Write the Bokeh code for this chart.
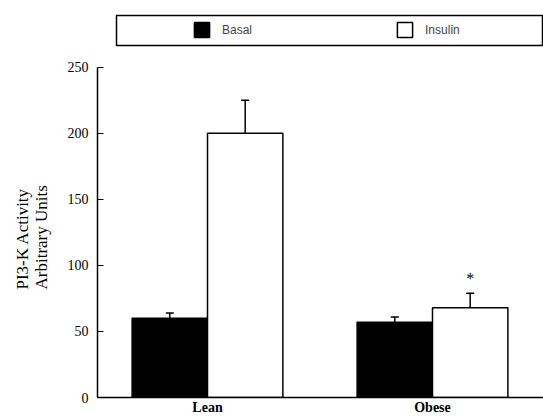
from bokeh.plotting import figure
from bokeh.models import (ColumnDataSource, Whisker, TeeHead, FixedTicker, Range1d,
                          Legend, LegendItem, BoxAnnotation, Title)
from bokeh.core.properties import value
from bokeh.embed import file_html
from bokeh.resources import INLINE

# ---- data ----
groups = ["Lean", "Obese"]
basal = [60, 57]
basal_err = [4, 4]
insulin = [200, 68]
insulin_err = [25, 11]
significant = [False, True]
y_ticks = [0, 50, 100, 150, 200, 250]
y_title = "PI3-K Activity\nArbitrary Units"

# ---- layout constants ----
W, H = 543, 417
LEFT, BOTTOM = 97, 19
frame_w = W - LEFT
frame_h = H - BOTTOM
px_per_unit = 1.324
group_px = 225.0
bar_w = 0.335
x_start = 1 - 110.0 / group_px
x_end = x_start + frame_w / group_px
y_end = frame_h / px_per_unit

pos = list(range(1, len(groups) + 1))
xb = [p - bar_w / 2 for p in pos]
xi = [p + bar_w / 2 for p in pos]

src_b = ColumnDataSource(dict(x=xb, top=basal, lo=basal,
                              hi=[v + e for v, e in zip(basal, basal_err)]))
src_i = ColumnDataSource(dict(x=xi, top=insulin, lo=insulin,
                              hi=[v + e for v, e in zip(insulin, insulin_err)]))

p = figure(width=W, height=H, output_backend="svg", toolbar_location=None,
           x_range=Range1d(x_start, x_end), y_range=Range1d(0, y_end),
           min_border_left=LEFT, min_border_right=0, min_border_top=0,
           min_border_bottom=BOTTOM)
p.outline_line_color = None
p.grid.visible = False

# error bars
for src in (src_b, src_i):
    w = Whisker(source=src, base="x", upper="hi", lower="lo",
                line_color="black", line_width=1.5,
                upper_head=TeeHead(size=8, line_color="black", line_width=1.5),
                lower_head=None)
    p.add_layout(w)

rb = p.vbar(x="x", top="top", bottom=0, width=bar_w, source=src_b,
            fill_color="black", line_color="black", line_width=1.5)
ri = p.vbar(x="x", top="top", bottom=0, width=bar_w, source=src_i,
            fill_color="white", line_color="black", line_width=1.5)

# significance marker
sx = [x for x, s in zip(xi, significant) if s]
sy = [v + e + 5 for v, e, s in zip(insulin, insulin_err, significant) if s]
p.text(x=sx, y=sy, text=["*"] * len(sx), text_align="center",
       text_baseline="bottom", text_font=value("Liberation Serif"),
       text_font_size="16px", text_color="black")

# axes
p.yaxis.ticker = FixedTicker(ticks=y_ticks)
p.yaxis.bounds = (0, 250)
p.yaxis.major_tick_in = 6
p.yaxis.major_tick_out = 0
p.yaxis.minor_tick_line_color = None
p.yaxis.major_label_standoff = 9
p.yaxis.major_label_text_font = "Liberation Serif"
p.yaxis.major_label_text_font_size = "14px"
p.yaxis.major_label_text_color = "black"
p.yaxis.axis_line_width = 1.5
p.yaxis.major_tick_line_width = 1.2

# y-axis title (two lines), positioned along the 0..250 span
p.add_layout(Title(text=y_title, align="left", offset=108, vertical_align="top",
                   standoff=24, text_font="Liberation Serif", text_font_size="17px",
                   text_font_style="normal", text_color="black",
                   text_line_height=1.0), "left")

p.xaxis.ticker = FixedTicker(ticks=pos)
p.xaxis.major_label_overrides = {i: g for i, g in zip(pos, groups)}
p.xaxis.major_tick_in = 0
p.xaxis.major_tick_out = 0
p.xaxis.minor_tick_line_color = None
p.xaxis.major_label_standoff = 2
p.xaxis.major_label_text_font = "Liberation Serif"
p.xaxis.major_label_text_font_style = "bold"
p.xaxis.major_label_text_font_size = "14px"
p.xaxis.major_label_text_color = "black"
p.xaxis.axis_line_width = 1.5

# legend frame
box = BoxAnnotation(left=x_start + 19 / group_px, right=x_end - 1 / group_px,
                    top=(frame_h - 15) / px_per_unit, bottom=(frame_h - 45) / px_per_unit,
                    fill_alpha=0, line_color="black", line_width=1.5, line_alpha=1)
p.add_layout(box)

legend = Legend(items=[LegendItem(label="Basal", renderers=[rb]),
                       LegendItem(label="Insulin", renderers=[ri])],
                orientation="horizontal", location=(90, frame_h - 45),
                glyph_width=19, glyph_height=19, label_standoff=11, spacing=143,
                padding=5, margin=0, border_line_alpha=0, background_fill_alpha=0,
                label_text_font="Liberation Sans", label_text_font_size="12px")
p.add_layout(legend)

open("out.html", "w").write(file_html(p, INLINE))
